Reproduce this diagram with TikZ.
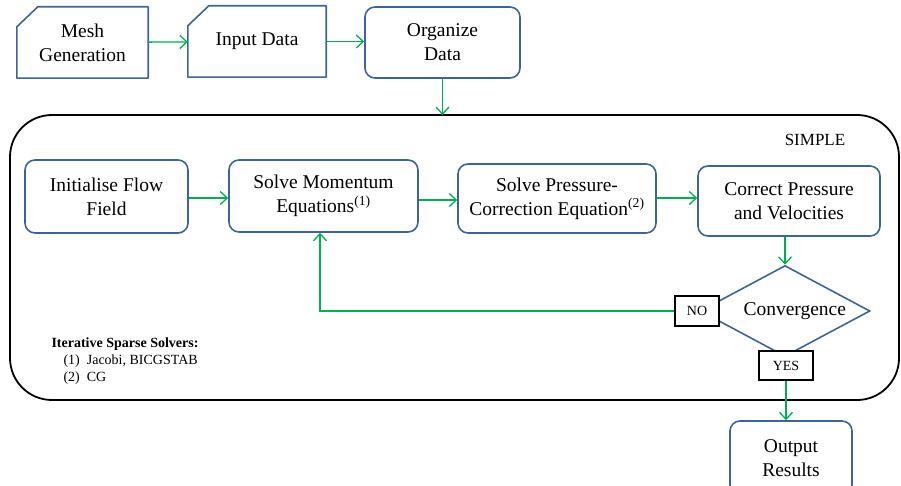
\documentclass[tikz,border=0pt]{standalone}
\usepackage{fontspec}
\setmainfont{Liberation Serif}
\usetikzlibrary{shapes.geometric,arrows.meta}
\definecolor{boxblue}{HTML}{3E6494}
\definecolor{flowgreen}{HTML}{00B050}
\begin{document}
\begin{tikzpicture}[
  x=1pt, y=-1pt,
  stepbox/.style={draw=boxblue, line width=1.6pt, rounded corners=10pt, align=center, inner sep=0pt, font=\fontsize{19.5}{24}\selectfont},
  cardbox/.style={align=center, inner sep=0pt, font=\fontsize{19.5}{24}\selectfont},
  cardline/.style={draw=boxblue, line width=1.6pt, line join=round},
  tagbox/.style={draw, line width=1.2pt, inner sep=0pt, minimum width=44pt, minimum height=30pt, font=\fontsize{14}{16}\selectfont},
  flow/.style={->, draw=flowgreen, line width=1.3pt},
  >={Straight Barb[length=7pt, width=13pt]}
]
\useasboundingbox (0,0) rectangle (901,486);
% input chain
\node[cardbox, minimum width=131pt, minimum height=71pt] (mesh) at (82.5,42.5) {Mesh\\Generation};
\node[cardbox, minimum width=138pt, minimum height=71pt] (input) at (257,41.5) {Input Data};
\draw[cardline] (mesh.north west) ++(0,20) -- ++(21,-20) -- (mesh.north east) -- (mesh.south east) -- (mesh.south west) -- cycle;
\draw[cardline] (input.north west) ++(0,20) -- ++(21,-20) -- (input.north east) -- (input.south east) -- (input.south west) -- cycle;
\node[stepbox, minimum width=155pt, minimum height=71pt] (organize) at (442.5,42.5) {Organize\\Data};
\coordinate (looptop) at (442.5,115);
% SIMPLE loop
\draw[line width=1.8pt, rounded corners=42pt] (10,115) rectangle (899,400);
\node[font=\fontsize{17}{20}\selectfont] (simple) at (815,140) {SIMPLE};
\node[stepbox, minimum width=163pt, minimum height=73pt] (init) at (106.5,196.5) {Initialise Flow\\Field};
\node[stepbox, minimum width=189pt, minimum height=72pt] (momentum) at (323.5,196) {Solve Momentum\\Equations\textsuperscript{(1)}};
\node[stepbox, minimum width=198pt, minimum height=69pt] (pressure) at (557,198.5) {Solve Pressure-\\Correction Equation\textsuperscript{(2)}};
\node[stepbox, minimum width=182pt, minimum height=70pt] (correct) at (789,201) {Correct Pressure\\and Velocities};
\node[diamond, aspect=1.87, draw=boxblue, line width=1.6pt, minimum width=170pt, minimum height=91pt, inner sep=0pt, font=\fontsize{19.5}{24}\selectfont] (conv) at (785,311) {\quad Convergence};
\node[tagbox, fill=white] (no) at (697,311) {NO};
\node[tagbox, fill=white, minimum width=54pt, minimum height=29pt] (yes) at (786,365.5) {YES};
\node[stepbox, minimum width=122pt, minimum height=74pt] (output) at (791,458) {Output\\Results};
% legend
\node[anchor=north west, align=left, font=\fontsize{14}{17}\selectfont] (legend) at (48,334)
  {\textbf{Iterative Sparse Solvers:}\\
   \hspace*{12pt}(1)\enspace Jacobi, BICGSTAB\\
   \hspace*{12pt}(2)\enspace CG};
% connectors
\draw[flow] (mesh) -- (input);
\draw[flow] (input) -- (organize.west |- input);
\draw[flow] (organize.south) -- (looptop);
\draw[flow] (init.east |- 0,198) -- (momentum.west |- 0,198);
\draw[flow] (momentum.east |- 0,200) -- (pressure.west |- 0,200);
\draw[flow] (pressure.east |- 0,198) -- (correct.west |- 0,198);
\draw[flow] (correct.south -| conv) -- (conv.north);
\draw[flow] (no.west) -| (momentum.south -| 320,0);
\draw[flow] (yes.south) -- (output.north -| yes);
\end{tikzpicture}
\end{document}
